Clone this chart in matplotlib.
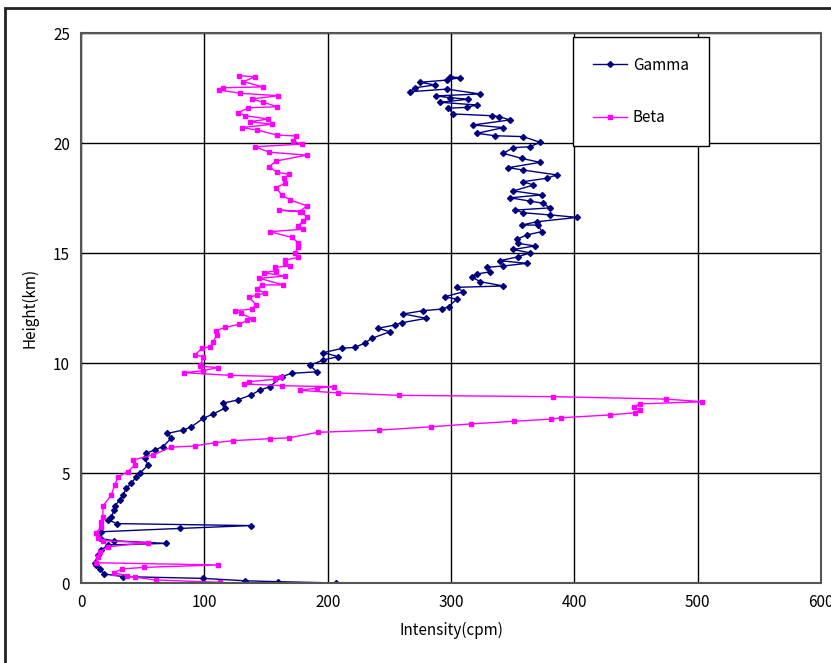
import matplotlib.pyplot as plt
from matplotlib.patches import Rectangle

plt.rcParams['font.family'] = ['Noto Sans CJK JP', 'DejaVu Sans']

gamma_cpm = [207, 160, 133, 99, 34, 19, 15, 12.4, 11, 13.8, 16.5, 21.9, 69, 27, 15, 16.5,
             80, 137.6, 29.4, 22, 24.6, 26.7, 27.3, 31.4, 34, 36.7, 40.8, 44.8, 47.6, 54.3,
             51.6, 53, 59.7, 66.5, 73.2, 70, 82.7, 89.5, 99, 107, 116.5, 115, 127, 138, 145,
             153, 162.7, 170.8, 191, 185.7, 196.5, 208.6, 196.5, 212, 222, 230, 235.7, 250.5,
             241, 254.6, 260, 280, 261.3, 277.6, 292.4, 298, 304.6, 295, 310, 304.6, 342.4,
             323.5, 316.8, 320.8, 331.6, 329, 342.4, 361.4, 339.7, 354.6, 364, 350.5, 368,
             354.6, 353.3, 361.4, 373.5, 370.8, 357.3, 369.5, 402.4, 380.3, 358.6, 352, 380,
             374.8, 364, 347.8, 373.5, 350.5, 366.8, 358.6, 377.6, 385.7, 358.6, 346.5, 372.2,
             357.3, 342.4, 350.5, 364, 372.2, 358.6, 335.7, 321.3, 342.4, 318, 347.8, 339,
             333, 301.9, 297.9, 312.7, 320.8, 291, 314, 299.2, 287.8, 323.5, 296.5, 266.8,
             270.8, 287, 274.9, 296.5, 307.3, 299.2]
gamma_km = [0.0, 0.06, 0.1, 0.21, 0.29, 0.41, 0.64, 0.82, 0.92, 1.27, 1.5, 1.73, 1.8, 1.92,
            2.03, 2.33, 2.48, 2.61, 2.7, 2.86, 3.0, 3.3, 3.5, 3.77, 4.0, 4.3, 4.53, 4.83, 4.98,
            5.36, 5.67, 5.9, 6.05, 6.2, 6.58, 6.8, 6.95, 7.1, 7.48, 7.68, 7.94, 8.17, 8.32, 8.55,
            8.77, 8.92, 9.38, 9.53, 9.6, 9.9, 10.14, 10.29, 10.47, 10.67, 10.71, 10.9, 11.12,
            11.42, 11.58, 11.73, 11.83, 12.03, 12.23, 12.38, 12.45, 12.56, 12.9, 13.01, 13.24,
            13.44, 13.5, 13.7, 13.92, 14.04, 14.15, 14.35, 14.41, 14.53, 14.65, 14.83, 15.01,
            15.16, 15.32, 15.44, 15.62, 15.82, 15.97, 16.27, 16.27, 16.42, 16.62, 16.73, 16.83,
            16.95, 17.05, 17.26, 17.36, 17.51, 17.64, 17.82, 18.09, 18.24, 18.4, 18.55, 18.77,
            18.88, 19.12, 19.3, 19.53, 19.79, 19.83, 20.03, 20.29, 20.33, 20.44, 20.7, 20.82,
            21.05, 21.2, 21.24, 21.32, 21.58, 21.62, 21.73, 21.85, 21.99, 22.06, 22.14, 22.23,
            22.45, 22.33, 22.51, 22.64, 22.76, 22.86, 22.97, 23.01]

# Beta profile
beta_cpm = [112.4, 60.5, 44, 37.5, 26.7, 33.5, 51, 111, 12.4, 13.8, 15.2, 21.9, 54.3, 17.8,
            13.8, 12.4, 16.5, 16.5, 17.8, 17.8, 24.6, 27.3, 30, 38.1, 43.5, 42.2, 58.4, 72.7,
            92.2, 109, 123.2, 153, 168.6, 192.3, 241.9, 283.5, 316, 350.7, 381.4, 389.2, 428.6,
            449.5, 453, 448.6, 453.2, 503.9, 474, 382.9, 257.8, 208.3, 177.3, 191.5, 205.4,
            162.8, 131.8, 136.1, 157, 162.2, 120.8, 83.2, 99.1, 110.7, 96.2, 97, 99.2, 92.4,
            97.9, 104.6, 107.3, 110, 109.5, 116.8, 128.4, 134.9, 139.7, 129.5, 124.9, 138.4,
            141.9, 136.5, 143, 149.2, 143, 146.5, 164, 144.6, 165.4, 148.4, 158.1, 157.3, 169.5,
            165.4, 165.4, 176.2, 173.5, 176.2, 176.2, 170.8, 153.2, 180.3, 176.2, 180.3, 183.5,
            178.9, 160.8, 177.6, 183, 169.5, 162.7, 158.1, 165.4, 164.9, 168.9, 158.7, 152.7,
            158.1, 183, 152.7, 141.1, 178.9, 172.1, 174.3, 158.7, 143, 130.3, 154.6, 137, 151.9,
            133, 127.5, 135.7, 159.2, 147.8, 138.4, 160, 128.9, 112.1, 115.3, 147.3, 131.6,
            141.1, 128.4]
beta_km = [0.03, 0.14, 0.26, 0.32, 0.47, 0.64, 0.71, 0.82, 0.92, 1.2, 1.42, 1.65, 1.83, 1.92,
           2.03, 2.29, 2.56, 2.79, 3.01, 3.5, 4.0, 4.45, 4.83, 5.06, 5.36, 5.59, 5.82, 6.17,
           6.23, 6.38, 6.47, 6.56, 6.6, 6.85, 6.95, 7.1, 7.23, 7.35, 7.45, 7.51, 7.64, 7.74,
           7.86, 8.01, 8.14, 8.24, 8.36, 8.47, 8.53, 8.64, 8.76, 8.86, 8.92, 8.97, 9.05, 9.15,
           9.26, 9.38, 9.44, 9.56, 9.65, 9.79, 9.86, 9.9, 10.29, 10.36, 10.67, 10.74, 10.97,
           11.27, 11.47, 11.62, 11.76, 11.95, 11.99, 12.26, 12.38, 12.45, 12.64, 12.99, 13.09,
           13.17, 13.35, 13.55, 13.55, 13.85, 13.95, 14.1, 14.2, 14.35, 14.41, 14.53, 14.68,
           14.8, 14.98, 15.29, 15.47, 15.71, 15.97, 16.08, 16.23, 16.47, 16.62, 16.88, 16.95,
           16.88, 17.15, 17.41, 17.64, 17.97, 18.17, 18.4, 18.58, 18.67, 18.92, 19.18, 19.45,
           19.58, 19.83, 19.95, 20.09, 20.32, 20.36, 20.59, 20.7, 20.85, 20.97, 21.09, 21.24,
           21.38, 21.6, 21.65, 21.85, 22.0, 22.15, 22.26, 22.41, 22.51, 22.55, 22.79, 23.01,
           23.06]

fig = plt.figure(figsize=(8.31, 6.63), dpi=100)
ax = fig.add_axes([81 / 831, 1 - 583 / 663, 740 / 831, 550 / 663])

ax.plot(gamma_cpm, gamma_km, color='#000080', marker='D', markersize=3, linewidth=1, label='Gamma')
ax.plot(beta_cpm, beta_km, color='#FF00FF', marker='s', markersize=3.5, linewidth=1, label='Beta')

ax.set_xlim(0, 600)
ax.set_ylim(0, 25)
ax.set_xticks(range(0, 601, 100))
ax.set_yticks(range(0, 26, 5))
ax.grid(True, color='black', linewidth=1)
ax.set_axisbelow(True)
ax.tick_params(length=0, labelsize=11, pad=8)
for s in ax.spines.values():
    s.set_color('#555555')
    s.set_linewidth(1.5)

ax.set_xlabel('Intensity(cpm)', fontsize=11, labelpad=8)
ax.set_ylabel('Height(km)', fontsize=11, labelpad=10)

leg = ax.legend(loc='upper left', bbox_to_anchor=(0.665, 0.993), borderaxespad=0,
                fancybox=False, framealpha=1, edgecolor='black', fontsize=11,
                labelspacing=2.3, borderpad=1.3, handlelength=2.2, handletextpad=0.4)
leg.get_frame().set_linewidth(1)

# outer chart border (cut off on the right and bottom in the original)
fig.add_artist(Rectangle((5 / 831, -0.1), 1.2, (663 - 8) / 663 + 0.1, transform=fig.transFigure,
                         fill=False, edgecolor='#222222', linewidth=2))

fig.savefig('out.png', dpi=100)
